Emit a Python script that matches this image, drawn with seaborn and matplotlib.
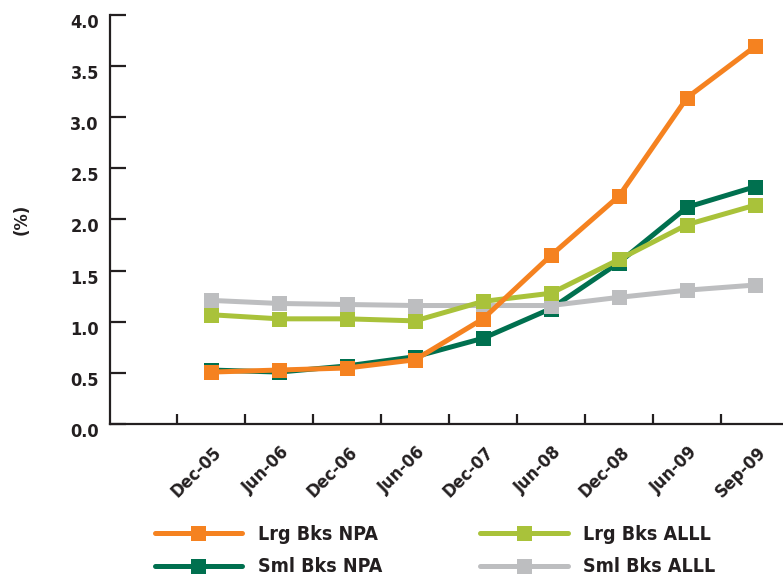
import matplotlib
matplotlib.use("Agg")
import matplotlib.pyplot as plt
import matplotlib.transforms as mtransforms
from matplotlib.lines import Line2D
import seaborn as sns
import pandas as pd
import numpy as np

# Quarter labels along the x axis
periods = ["Dec-05", "Jun-06", "Dec-06", "Jun-06", "Dec-07",
           "Jun-08", "Dec-08", "Jun-09", "Sep-09"]

# Ratios in percent
lrg_npa = [0.51, 0.53, 0.55, 0.63, 1.03, 1.65, 2.23, 3.19, 3.69]
sml_npa = [0.53, 0.51, 0.57, 0.66, 0.84, 1.13, 1.58, 2.12, 2.32]
lrg_alll = [1.07, 1.03, 1.03, 1.01, 1.20, 1.28, 1.61, 1.95, 2.14]
sml_alll = [1.21, 1.18, 1.17, 1.16, 1.16, 1.16, 1.24, 1.31, 1.36]

y_ticks = [0.0, 0.5, 1.0, 1.5, 2.0, 2.5, 3.0, 3.5, 4.0]

colors = {
    "Lrg Bks NPA": "#F58220",
    "Sml Bks NPA": "#00704F",
    "Lrg Bks ALLL": "#A9C23A",
    "Sml Bks ALLL": "#BDBEC0",
}

sns.set_theme(style="white")
plt.rcParams["font.family"] = ["DejaVu Sans"]
plt.rcParams["font.weight"] = "bold"
plt.rcParams["font.stretch"] = "condensed"

ink = "#231F20"
fsize = 13

fig = plt.figure(figsize=(7.83, 5.78), dpi=100)
ax = fig.add_axes([110 / 783, 1 - 424.3 / 578, 1 - 110 / 783, (424.3 - 14.7) / 578])

x = np.arange(len(periods))
frames = []
for name, vals in [("Sml Bks NPA", sml_npa), ("Sml Bks ALLL", sml_alll),
                   ("Lrg Bks ALLL", lrg_alll), ("Lrg Bks NPA", lrg_npa)]:
    frames.append(pd.DataFrame({"pos": x, "value": vals, "series": name}))
df = pd.concat(frames, ignore_index=True)

# Later series are drawn over earlier ones
draw_order = ["Sml Bks NPA", "Sml Bks ALLL", "Lrg Bks ALLL", "Lrg Bks NPA"]
for name in draw_order:
    sub = df[df["series"] == name]
    sns.lineplot(data=sub, x="pos", y="value", ax=ax, color=colors[name],
                 linewidth=3.6, marker="s", markersize=10.8, markeredgewidth=0,
                 legend=False, solid_capstyle="butt")

ax.set_xlim(-1.485, 8.41)
ax.set_ylim(0, 4.0)
ax.set_xlabel("")
ax.set_ylabel("(%)", fontsize=fsize, color=ink, fontweight="bold")
ax.yaxis.set_label_coords(-0.118, 0.5)

for s in ["top", "right"]:
    ax.spines[s].set_visible(False)
for s in ["left", "bottom"]:
    ax.spines[s].set_color(ink)
    ax.spines[s].set_linewidth(1.6)

ax.set_yticks(y_ticks)
ax.set_yticklabels([f"{v:.1f}" for v in y_ticks])
ax.tick_params(axis="y", direction="in", length=11.5, width=1.6, color=ink,
               labelsize=fsize, labelcolor=ink, pad=8, left=True)
shift = mtransforms.ScaledTranslation(0, -6 / 100, fig.dpi_scale_trans)
for lab in ax.get_yticklabels():
    lab.set_transform(lab.get_transform() + shift)

# Category labels at the points, tick marks on the boundaries between them
ax.set_xticks(x)
ax.set_xticklabels(periods, rotation=45, ha="right", va="center",
                   rotation_mode="anchor")
ax.set_xticks(np.arange(-0.5, 8, 1.0), minor=True)
ax.tick_params(axis="x", which="major", length=0, labelsize=fsize,
               labelcolor=ink, pad=18)
ax.tick_params(axis="x", which="minor", direction="in", length=7, width=1.6,
               color=ink, bottom=True)
xshift = mtransforms.ScaledTranslation(8 / 100, 0, fig.dpi_scale_trans)
for lab in ax.get_xticklabels():
    lab.set_transform(lab.get_transform() + xshift)
ax.grid(False)

legend_order = ["Lrg Bks NPA", "Sml Bks NPA", "Lrg Bks ALLL", "Sml Bks ALLL"]
handles = [Line2D([0], [0], color=colors[n], linewidth=3.6, marker="s",
                  markersize=10.8, markeredgewidth=0, solid_capstyle="round")
           for n in legend_order]
fig.legend(handles, legend_order, loc="upper left",
           bbox_to_anchor=(145 / 783, 1 - 515 / 578), ncol=2, frameon=False,
           fontsize=14, handlelength=4.5, handletextpad=0.8,
           columnspacing=5.05, labelspacing=0.7, borderpad=0,
           labelcolor=ink)

fig.savefig("out.png", dpi=100)
